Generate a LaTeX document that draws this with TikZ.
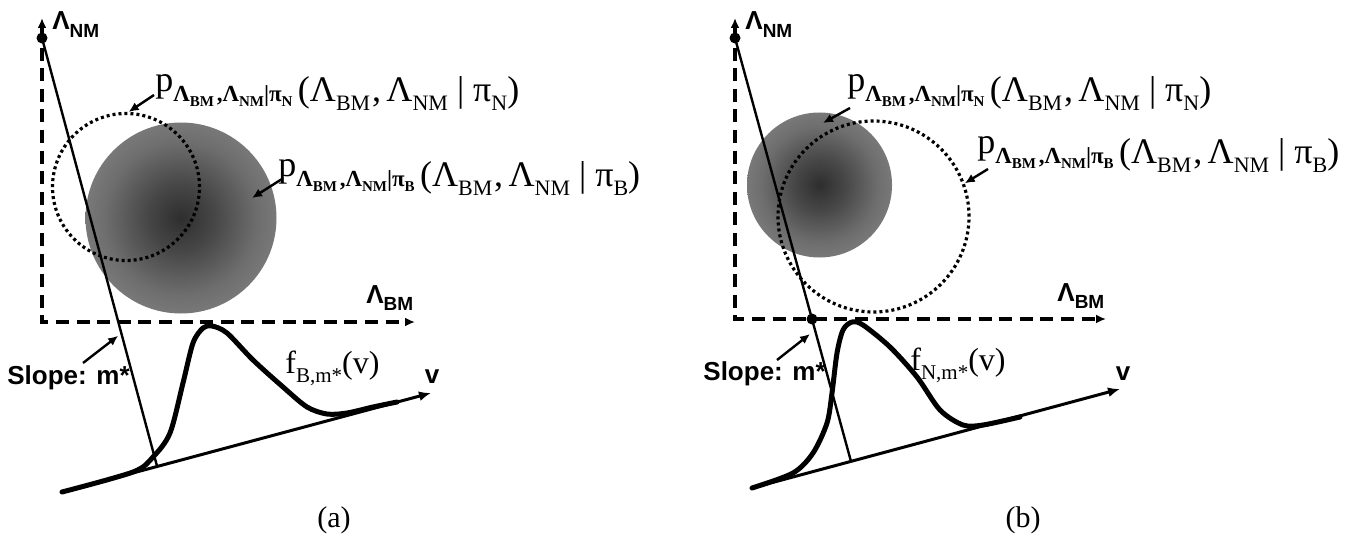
\documentclass[tikz,border=0pt]{standalone}
\usepackage{fontspec}
\setmainfont{Liberation Serif}
\setsansfont{Liberation Sans}
\usepackage{xcolor}
\usepackage{tikz}
\usetikzlibrary{arrows.meta,positioning,calc}

\colorlet{blobA}{black!82}
\colorlet{blobB}{black!72}
\colorlet{blobC}{black!57}
\colorlet{blobD}{black!47}
\colorlet{blobE}{black!46}
\pgfdeclareradialshading{blobshade}{\pgfpoint{0bp}{0bp}}{color(0bp)=(blobA); color(9bp)=(blobB); color(20bp)=(blobC); color(32bp)=(blobD); color(50bp)=(blobE); color(72bp)=(blobE)}

\newcommand{\jointpdf}[1]{%
  \raisebox{0.3em}{p}%
  {\fontsize{11.5}{11.5}\selectfont\bfseries Λ\lower0.2em\hbox{\fontsize{7.5}{7.5}\selectfont BM}\kern0.12em,Λ\lower0.2em\hbox{\fontsize{7.5}{7.5}\selectfont NM}|π\lower0.2em\hbox{\fontsize{7.5}{7.5}\selectfont #1}}%
  \kern0.15em(Λ\lower0.24em\hbox{\fontsize{11}{11}\selectfont BM}\kern0.05em,\kern0.15emΛ\lower0.24em\hbox{\fontsize{11}{11}\selectfont NM}\kern0.25em|\kern0.25emπ\lower0.24em\hbox{\fontsize{11}{11}\selectfont #1})}
\newcommand{\condf}[1]{f\lower0.28em\hbox{\fontsize{10.5}{10.5}\selectfont #1,m*}(v)}
\newcommand{\axname}[1]{Λ\lower0.3em\hbox{\fontsize{9.5}{9.5}\selectfont #1}}

\begin{document}
\begin{tikzpicture}[
    x=0.5pt, y=-0.5pt,
    dashaxis/.style={line width=1.6pt, dash pattern=on 6.5pt off 3.8pt},
    mline/.style={line width=1.2pt},
    vaxis/.style={line width=1.5pt, -{Latex[length=6pt,width=5pt]}},
    dens/.style={line width=2.5pt, line join=round, line cap=round},
    ptr/.style={line width=1.2pt, -{Latex[length=5pt,width=4.5pt]}},
    ring/.style={circle, draw, inner sep=0pt, line width=1.6pt, dash pattern=on 1.5pt off 1.5pt},
    blob/.style={circle, inner sep=0pt, shading=blobshade},
    dot/.style={circle, fill, inner sep=0pt, minimum size=5.5pt},
    bigtxt/.style={inner sep=0pt, font=\fontsize{18}{18}\selectfont},
    ftxt/.style={inner sep=0pt, font=\fontsize{16}{16}\selectfont},
    axlab/.style={inner sep=0pt, font=\sffamily\bfseries\fontsize{13}{13}\selectfont},
    captxt/.style={font=\fontsize{15}{15}\selectfont}
]
\useasboundingbox (0,0) rectangle (1363,545);

\node[blob, minimum size=95.5pt] (ablob) at (181,218) {};
\node[ring, minimum size=73.5pt] (aring) at (126,187) {};
\coordinate (aorig) at (42,322);
\coordinate (aytip) at (42,18);
\coordinate (axtip) at (415,322);
\draw[dashaxis, {Latex[length=5pt,width=4.5pt]}-{Latex[length=5pt,width=4.5pt]}] (aytip) -- (aorig) -- (axtip);
\node[dot] (atop) at (42,38) {};
\coordinate (afoot) at (157,466);
\draw[mline] (atop.center) -- (afoot);
\coordinate (avstart) at (62,492);
\coordinate (avtip) at (431,393);
\draw[vaxis] (avstart) -- (avtip);
\draw[dens] plot[smooth] coordinates {(62,492) (133,472) (153,457) (170,433) (183,383) (193,343) (203,328) (212,326) (227,333) (253,360) (283,387) (307,407) (327,414) (347,413) (373,407) (397,402)};

\node[axlab, anchor=base west] (anm) at (52,30) {\axname{NM}};
\node[axlab, anchor=base west] (abm) at (366,303) {\axname{BM}};
\node[axlab] (av) at (432,377) {v};
\node[axlab, anchor=west] (aslope) at (7,378) {Slope: m*};
\node[bigtxt, anchor=base west] (apn) at (155,102) {\jointpdf{N}};
\node[bigtxt, anchor=base west] (apb) at (278,187) {\jointpdf{B}};
\node[ftxt, anchor=west] (af) at (285,368) {\condf{B}};
\node[captxt] (acap) at (334,520) {(a)};

\coordinate (apn-tail) at (154,95);
\coordinate (apb-tail) at (282,179);
\coordinate (apb-tip) at (252,198);
\coordinate (aslope-tail) at (83,363);
\draw[ptr] (apn-tail) -- (aring.88);
\draw[ptr] (apb-tail) -- (apb-tip);
\draw[ptr, shorten >=2pt] (aslope-tail) -- ($(atop.center)!0.69!(afoot)$);

\node[blob, minimum size=72.5pt] (bblob) at (819.5,185) {};
\node[ring, minimum size=95.5pt] (bring) at (873.5,216.5) {};
\coordinate (borig) at (735,319);
\coordinate (bytip) at (735,18);
\coordinate (bxtip) at (1106,319);
\draw[dashaxis, {Latex[length=5pt,width=4.5pt]}-{Latex[length=5pt,width=4.5pt]}] (bytip) -- (borig) -- (bxtip);
\node[dot] (btop) at (735,38) {};
\node[dot] (bcross) at (812,319) {};
\coordinate (bfoot) at (851,461.5);
\draw[mline] (btop.center) -- (bfoot);
\coordinate (bvstart) at (752,488);
\coordinate (bvtip) at (1120,389);
\draw[vaxis] (bvstart) -- (bvtip);
\draw[dens] plot[smooth] coordinates {(752,488) (793,473) (813,453) (827,423) (832,393) (837,353) (843,330) (852,322) (863,325) (890,347) (917,377) (940,410) (963,425) (983,425) (1020,417)};

\node[axlab, anchor=base west] (bnm) at (745,30) {\axname{NM}};
\node[axlab, anchor=base west] (bbm) at (1057,301) {\axname{BM}};
\node[axlab] (bv) at (1123,374) {v};
\node[axlab, anchor=west] (bslope) at (703,374) {Slope: m*};
\node[bigtxt, anchor=base west] (bpn) at (847,102) {\jointpdf{N}};
\node[bigtxt, anchor=base west] (bpb) at (977,164) {\jointpdf{B}};
\node[ftxt, anchor=west] (bf) at (910,365) {\condf{N}};
\node[captxt] (bcap) at (1023,520) {(b)};

\coordinate (bpn-tail) at (850,108);
\coordinate (bpn-tip) at (823,123);
\coordinate (bpb-tail) at (988,169);
\coordinate (bslope-tail) at (777,360);
\coordinate (bslope-tip) at (810,334);
\draw[ptr] (bpn-tail) -- (bpn-tip);
\draw[ptr] (bpb-tail) -- (bring.20);
\draw[ptr] (bslope-tail) -- (bslope-tip);
\end{tikzpicture}
\end{document}
